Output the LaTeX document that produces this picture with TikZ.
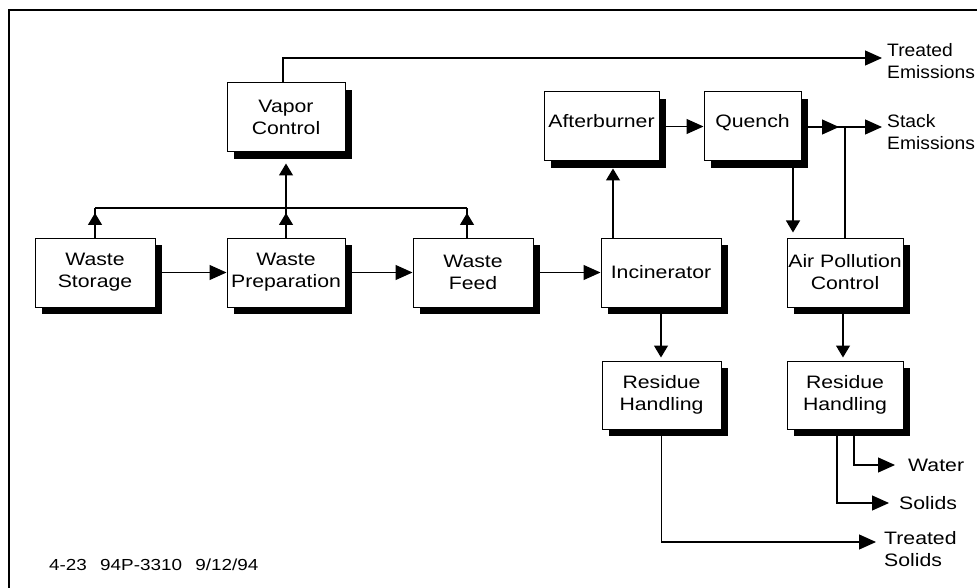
\documentclass[tikz,border=0pt]{standalone}
\usepackage{fontspec}
\newfontfamily\pixfont[FakeStretch=1.18]{Liberation Sans}
\newfontfamily\pixnarrow[FakeStretch=1.07]{Liberation Sans}
\newcommand\dfont{\pixfont\fontsize{18}{22}\selectfont}
\newcommand\nfont{\pixnarrow\fontsize{18}{22}\selectfont}
\newcommand\ffont{\pixfont\fontsize{16}{20}\selectfont}
\usetikzlibrary{shadows,arrows.meta}
\tikzset{
  box/.style={draw, line width=1pt, fill=white, minimum height=69pt, inner sep=0pt,
    align=center, font=\dfont,
    drop shadow={shadow xshift=7pt, shadow yshift=-7pt, fill=black, opacity=1}},
  ln/.style={line width=1.2pt},
  arr/.style={-{Triangle[length=17pt,width=15pt]}, line width=1.2pt},
  varr/.style={-{Triangle[length=12pt,width=14pt]}, line width=1.2pt},
  lbl/.style={anchor=west, align=left, font=\dfont, inner sep=0pt},
}
\begin{document}
\begin{tikzpicture}[x=1pt,y=-1pt]
\useasboundingbox (0,0) rectangle (977,588);
\clip (0,0) rectangle (977,588);
\fill[white] (0,0) rectangle (977,588);
\draw[line width=1.5pt] (9,600) -- (9,10) -- (990,10);

% boxes
\node[box, minimum width=118pt] (vc) at (286,117.5) {Vapor\\Control};
\node[box, minimum width=120pt] (ws) at (95,272.5) {Waste\\Storage};
\node[box, minimum width=118pt] (wp) at (286,272.5) {Waste\\Preparation};
\node[box, minimum width=120pt] (wf) at (473,272.5) {Waste\\Feed};
\node[box, minimum width=120pt] (inc) at (661,272.5) {Incinerator};
\node[box, minimum width=115pt, text depth=11pt] (ab) at (601.5,126.5) {Afterburner};
\node[box, minimum width=97pt, text depth=11pt] (q) at (752.5,126.5) {Quench};
\node[box, minimum width=116pt] (apc) at (845,272.5) {Air Pollution\\Control};
\node[box, minimum width=119pt, minimum height=68pt] (rh1) at (661.5,395) {Residue\\Handling};
\node[box, minimum width=116pt, minimum height=68pt] (rh2) at (845,395) {Residue\\Handling};

% labels
\node[lbl, font=\nfont] (temis) at (887,61) {Treated\\Emissions};
\node[lbl, font=\nfont] (stack) at (887,132) {Stack\\Emissions};
\node[lbl] (tsol) at (884,549) {Treated\\Solids};
\node[lbl] (water) at (908,465) {Water};
\node[lbl] (solids) at (899,503) {Solids};
\node[anchor=west, inner sep=0pt, font=\ffont] (foot) at (49,565) {4-23\enspace\ 94P-3310\enspace\ 9/12/94};

% coordinates
\coordinate (bL) at (95,208);
\coordinate (bM) at (286,208);
\coordinate (bR) at (467,208);
\coordinate (te1) at (283,58);
\coordinate (sj) at (845,127);
\coordinate (sa) at (839,127);

% collection bus to vapor control
\draw[ln] (bL) -- (bR);
\draw[ln] (ws.north) -- (bL);
\draw[varr] (ws.north) -- ([yshift=-5pt]bL);
\draw[ln] (wp.north) -- (bM);
\draw[varr] (wp.north) -- ([yshift=-5pt]bM);
\draw[ln] (bR |- wf.north) -- (bR);
\draw[varr] (bR |- wf.north) -- ([yshift=-5pt]bR);
\draw[varr, shorten >=11pt] (bM) -- (vc.south);

% vapor control to treated emissions
\draw[arr, shorten >=5pt] (vc.north -| te1) -- (te1) -- (temis.west |- te1);

% main flow
\draw[arr] (ws.east) -- (wp.west);
\draw[arr] (wp.east) -- (wf.west);
\draw[arr] (wf.east) -- (inc.west);

% incinerator train
\draw[varr, shorten >=7pt] ([xshift=-48pt]inc.north) -- ([xshift=-48pt]inc.north |- ab.south);
\draw[arr] (ab.east) -- (q.west);
\draw[arr, shorten >=5pt] (q.east |- sj) -- (stack.west |- sj);
\draw[arr] (q.east |- sj) -- (sa);
\draw[ln] (apc.north) -- (sj);
\draw[varr, shorten >=5pt] ([xshift=40.5pt]q.south) -- ([xshift=40.5pt]q.south |- apc.north);

% residues
\draw[varr, shorten >=3pt] (inc.south) -- (inc.south |- rh1.north);
\draw[varr, shorten >=3pt] ([xshift=-2pt]apc.south) -- ([xshift=-2pt]apc.south |- rh2.north);
\draw[arr, shorten >=8pt] (rh1.south) |- ([yshift=7pt]tsol.west);
\draw[arr, shorten >=13pt] ([xshift=9pt]rh2.south) |- (water.west);
\draw[arr, shorten >=10pt] ([xshift=-8pt]rh2.south) |- (solids.west);
\end{tikzpicture}
\end{document}
